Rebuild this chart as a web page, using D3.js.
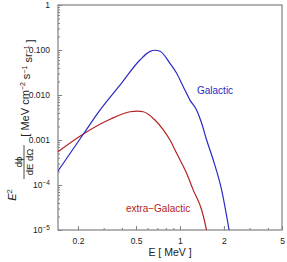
<!DOCTYPE html>
<html>
<head>
<meta charset="utf-8">
<script src="https://cdn.jsdelivr.net/npm/d3@7"></script>
<style>
  body { margin: 0; background: #fff; }
  svg { display: block; font-family: "Liberation Sans", Arial, sans-serif; }
  .axis path { display: none; }
  .axis line { stroke: #808080; }
  .axis text { fill: #222; font-size: 8.5px; }
</style>
</head>
<body>
<div id="chart"></div>
<script>
// Galactic spectrum (E in MeV, E^2 dphi/dE dOmega)
var galE = [0.146, 0.218, 0.283, 0.388, 0.532, 0.62, 0.674, 0.73, 0.854, 0.949, 1.053, 1.171, 1.301, 1.408, 1.523, 1.69, 1.93, 2.17, 2.25];
var galFlux = [2.05e-4, 1.36e-3, 4.6e-3, 0.0166, 0.06, 0.092, 0.0987, 0.094, 0.0506, 0.0304, 0.0153, 7.7e-3, 4.6e-3, 2.35e-3, 1.0e-3, 3.6e-4, 7.7e-5, 1.0e-5, 5e-6];

// extra-Galactic spectrum
var exE = [0.146, 0.218, 0.332, 0.455, 0.51, 0.561, 0.674, 0.769, 0.854, 0.949, 1.11, 1.233, 1.408, 1.52, 1.58];
var exFlux = [5.5e-4, 1.36e-3, 2.88e-3, 4.25e-3, 4.4e-3, 4.25e-3, 2.78e-3, 1.67e-3, 1.0e-3, 5.06e-4, 1.82e-4, 7.7e-5, 2.78e-5, 1.0e-5, 5e-6];

// ticks
var xMajor = [0.2, 0.5, 1, 2, 5];
var xMajorLabels = ["0.2", "0.5", "1", "2", "5"];
var xMinor = [0.3, 0.4, 0.6, 0.7, 0.8, 0.9, 3, 4];
var yMajor = [1, 0.1, 0.01, 0.001, 1e-4, 1e-5];
var yMajorLabels = ["1", "0.100", "0.010", "0.001", "10|-4", "10|-5"];

var width = 287, height = 262;
var mLeft = 58, mRight = 282, mTop = 5, mBottom = 230;
var blue = "#2a2ac4", red = "#b42222";

var svg = d3.select('#chart').append('svg')
    .attr('width', width)
    .attr('height', height);

var x = d3.scaleLog().domain([0.146, 5]).range([mLeft, mRight]);
var y = d3.scaleLog().domain([1e-5, 1]).range([mBottom, mTop]);

// minor y ticks: 2..9 in each decade
var yMinor = [];
yMajor.slice(1).forEach(function (d) {
    for (var k = 2; k <= 9; k++) yMinor.push(d * k);
});

svg.append('defs').append('clipPath').attr('id', 'clip')
    .append('rect')
    .attr('x', mLeft).attr('y', mTop)
    .attr('width', mRight - mLeft).attr('height', mBottom - mTop);

// minor ticks first
svg.append('g').attr('class', 'axis')
    .attr('transform', 'translate(' + mLeft + ',0)')
    .call(d3.axisLeft(y).tickValues(yMinor).tickSize(-2).tickFormat(''));
svg.append('g').attr('class', 'axis')
    .attr('transform', 'translate(0,' + mBottom + ')')
    .call(d3.axisBottom(x).tickValues(xMinor).tickSize(-2).tickFormat(''));

// major ticks with labels
var yAxis = svg.append('g').attr('class', 'axis')
    .attr('transform', 'translate(' + mLeft + ',0)')
    .call(d3.axisLeft(y).tickValues(yMajor).tickSizeInner(-4).tickSizeOuter(0).tickPadding(8)
        .tickFormat(function (d, i) { return yMajorLabels[i]; }));

// superscript labels 10^-n
yAxis.selectAll('.tick text').each(function () {
    var t = d3.select(this);
    var s = t.text();
    if (s.indexOf('|') >= 0) {
        var parts = s.split('|');
        t.text(parts[0]);
        t.append('tspan').attr('dy', '-0.5em').attr('font-size', '6.5px')
            .text('\u2212' + parts[1].slice(1));
    }
});

svg.append('g').attr('class', 'axis')
    .attr('transform', 'translate(0,' + mBottom + ')')
    .call(d3.axisBottom(x).tickValues(xMajor).tickSizeInner(-4).tickSizeOuter(0).tickPadding(8)
        .tickFormat(function (d, i) { return xMajorLabels[i]; }));

// frame
svg.append('rect')
    .attr('x', mLeft).attr('y', mTop)
    .attr('width', mRight - mLeft).attr('height', mBottom - mTop)
    .style('fill', 'none')
    .style('stroke', '#808080')
    .attr('stroke-width', 1.2);

// curves
var line = d3.line()
    .x(function (d) { return x(d[0]); })
    .y(function (d) { return y(d[1]); })
    .curve(d3.curveMonotoneX);

var plot = svg.append('g').attr('clip-path', 'url(#clip)');

plot.append('path')
    .datum(d3.zip(exE, exFlux))
    .attr('d', line)
    .style('fill', 'none')
    .style('stroke', red)
    .attr('stroke-width', 1.2);

plot.append('path')
    .datum(d3.zip(galE, galFlux))
    .attr('d', line)
    .style('fill', 'none')
    .style('stroke', blue)
    .attr('stroke-width', 1.2);

// curve labels
svg.append('text')
    .attr('x', 197).attr('y', 94)
    .style('fill', blue).style('font-size', '10px')
    .text('Galactic');

svg.append('text')
    .attr('x', 126).attr('y', 212)
    .style('fill', red).style('font-size', '10px')
    .text('extra\u2212Galactic');

// x label
svg.append('text')
    .attr('x', (mLeft + mRight) / 2).attr('y', 256)
    .attr('text-anchor', 'middle')
    .style('font-size', '10.5px').style('fill', '#222')
    .text('E [ MeV ]');

// y label, rotated
var yl = svg.append('g')
    .attr('transform', 'translate(24,0) rotate(-90)')
    .style('fill', '#222');

var e2 = yl.append('text')
    .attr('x', -195).attr('y', -8.5)
    .attr('text-anchor', 'middle')
    .style('font-size', '11px');
e2.append('tspan').style('font-style', 'italic').text('E');
e2.append('tspan').attr('dy', '-0.45em').style('font-size', '7.5px').text('2');

yl.append('text')
    .attr('x', -162).attr('y', -2.5)
    .attr('text-anchor', 'middle')
    .style('font-size', '9.5px')
    .text('d\u03d5');

yl.append('line')
    .attr('x1', -179).attr('x2', -145)
    .attr('y1', 0).attr('y2', 0)
    .style('stroke', '#222').attr('stroke-width', 0.8);

yl.append('text')
    .attr('x', -162).attr('y', 8.5)
    .attr('text-anchor', 'middle')
    .style('font-size', '9.5px')
    .text('dE d\u03a9');

var unit = yl.append('text')
    .attr('x', -88).attr('y', 4.5)
    .attr('text-anchor', 'middle')
    .style('font-size', '11px');
unit.append('tspan').text('[ MeV cm');
unit.append('tspan').attr('dy', '-0.45em').style('font-size', '7px').text('\u22122');
unit.append('tspan').attr('dy', '0.45em').text(' s');
unit.append('tspan').attr('dy', '-0.45em').style('font-size', '7px').text('\u22121');
unit.append('tspan').attr('dy', '0.45em').text(' sr');
unit.append('tspan').attr('dy', '-0.45em').style('font-size', '7px').text('\u22121');
unit.append('tspan').attr('dy', '0.45em').text(' ]');
</script>
</body>
</html>
